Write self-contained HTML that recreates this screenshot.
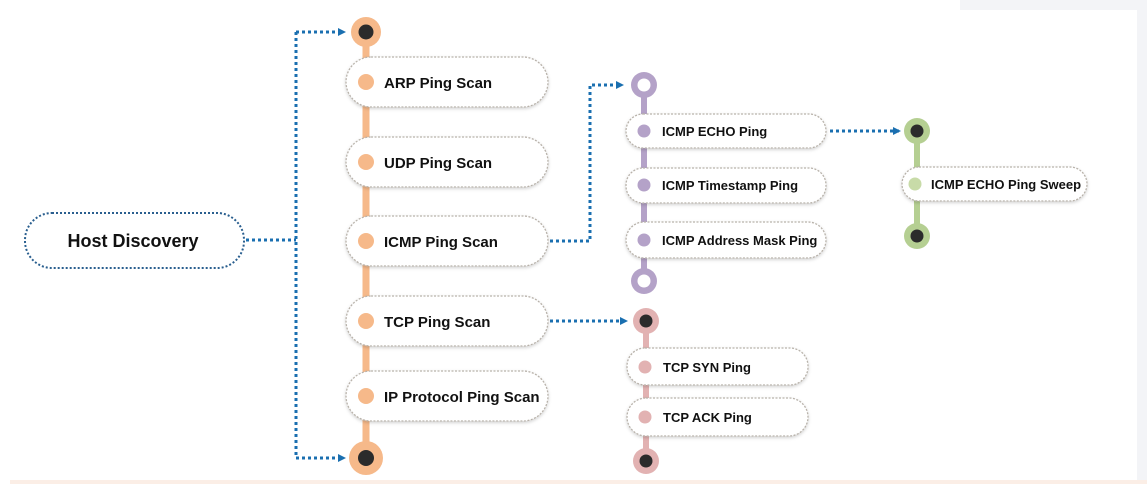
<!DOCTYPE html>
<html><head><meta charset="utf-8"><style>
html,body{margin:0;padding:0;background:#fff;}
svg{display:block;font-family:"Liberation Sans",Arial,sans-serif;}
.t{font-weight:bold;fill:#111;}
.b{fill:#fff;stroke:#b8b2aa;stroke-width:1.3;stroke-dasharray:2 1.5;filter:url(#sh);}
.c{stroke:#1a6fb0;stroke-width:3;stroke-dasharray:3 3;fill:none;}
</style></head><body>
<svg width="1147" height="484" viewBox="0 0 1147 484">
<defs>
<filter id="sh" x="-10%" y="-30%" width="120%" height="160%"><feDropShadow dx="0" dy="1.5" stdDeviation="1.5" flood-color="#000" flood-opacity="0.18"/></filter>
<marker id="ar" markerWidth="8" markerHeight="8" refX="6" refY="4" orient="auto" markerUnits="userSpaceOnUse"><path d="M0,0 L8,4 L0,8 Z" fill="#1a6fb0"/></marker>
</defs>
<rect x="960" y="0" width="187" height="10" fill="#f3f4f7"/>
<rect x="1137" y="0" width="10" height="484" fill="#f3f4f7"/>
<rect x="10" y="480" width="1137" height="4" fill="#fbeee6"/>

<!-- connectors -->
<path class="c" d="M246,240 H296"/>
<path class="c" d="M296,32 V458"/>
<path class="c" d="M296,32 H344" marker-end="url(#ar)"/>
<path class="c" d="M296,458 H344" marker-end="url(#ar)"/>
<path class="c" d="M550,241 H590 V85 H622" marker-end="url(#ar)"/>
<path class="c" d="M830,131 H899" marker-end="url(#ar)"/>
<path class="c" d="M550,321 H626" marker-end="url(#ar)"/>

<!-- Host Discovery -->
<rect x="25" y="213" width="219" height="55" rx="27" fill="#fff" stroke="#2a5f8f" stroke-width="2" stroke-dasharray="2 2"/>
<text class="t" x="133" y="247" font-size="18" text-anchor="middle">Host Discovery</text>

<!-- orange -->
<line x1="366" y1="32" x2="366" y2="458" stroke="#f6b98a" stroke-width="7"/>
<circle cx="366" cy="32" r="15" fill="#f6b98a"/><circle cx="366" cy="32" r="7.5" fill="#2b2b2b"/>
<circle cx="366" cy="458" r="17" fill="#f6b98a"/><circle cx="366" cy="458" r="8" fill="#2b2b2b"/>
<g>
<rect class="b" x="346" y="57" width="202" height="50" rx="25"/><circle cx="366" cy="82" r="8" fill="#f6b98a"/><text class="t" x="384" y="88" font-size="15">ARP Ping Scan</text>
<rect class="b" x="346" y="137" width="202" height="50" rx="25"/><circle cx="366" cy="162" r="8" fill="#f6b98a"/><text class="t" x="384" y="168" font-size="15">UDP Ping Scan</text>
<rect class="b" x="346" y="216" width="202" height="50" rx="25"/><circle cx="366" cy="241" r="8" fill="#f6b98a"/><text class="t" x="384" y="247" font-size="15">ICMP Ping Scan</text>
<rect class="b" x="346" y="296" width="202" height="50" rx="25"/><circle cx="366" cy="321" r="8" fill="#f6b98a"/><text class="t" x="384" y="327" font-size="15">TCP Ping Scan</text>
<rect class="b" x="346" y="371" width="202" height="50" rx="25"/><circle cx="366" cy="396" r="8" fill="#f6b98a"/><text class="t" x="384" y="402" font-size="15">IP Protocol Ping Scan</text>
</g>

<!-- purple -->
<line x1="644" y1="85" x2="644" y2="281" stroke="#b4a2c8" stroke-width="6"/>
<circle cx="644" cy="85" r="13" fill="#b4a2c8"/><circle cx="644" cy="85" r="6.5" fill="#fff"/>
<circle cx="644" cy="281" r="13" fill="#b4a2c8"/><circle cx="644" cy="281" r="6.5" fill="#fff"/>
<rect class="b" x="626" y="114" width="200" height="34" rx="17"/><circle cx="644" cy="131" r="6.5" fill="#b4a2c8"/><text class="t" x="662" y="136" font-size="13">ICMP ECHO Ping</text>
<rect class="b" x="626" y="168" width="200" height="35" rx="17"/><circle cx="644" cy="185" r="6.5" fill="#b4a2c8"/><text class="t" x="662" y="190" font-size="13">ICMP Timestamp Ping</text>
<rect class="b" x="626" y="222" width="200" height="36" rx="18"/><circle cx="644" cy="240" r="6.5" fill="#b4a2c8"/><text class="t" x="662" y="245" font-size="13">ICMP Address Mask Ping</text>

<!-- green -->
<line x1="917" y1="131" x2="917" y2="236" stroke="#b5cf92" stroke-width="6"/>
<circle cx="917" cy="131" r="13" fill="#b5cf92"/><circle cx="917" cy="131" r="6.5" fill="#2b2b2b"/>
<circle cx="917" cy="236" r="13" fill="#b5cf92"/><circle cx="917" cy="236" r="6.5" fill="#2b2b2b"/>
<rect class="b" x="902" y="167" width="185" height="34" rx="17"/><circle cx="915" cy="184" r="6.5" fill="#c8dba8"/><text class="t" x="931" y="189" font-size="13">ICMP ECHO Ping Sweep</text>

<!-- pink -->
<line x1="646" y1="321" x2="646" y2="461" stroke="#e2b2b2" stroke-width="6"/>
<circle cx="646" cy="321" r="13" fill="#e2b2b2"/><circle cx="646" cy="321" r="6.5" fill="#2b2b2b"/>
<circle cx="646" cy="461" r="13" fill="#e2b2b2"/><circle cx="646" cy="461" r="6.5" fill="#2b2b2b"/>
<rect class="b" x="627" y="348" width="181" height="37" rx="18"/><circle cx="645" cy="367" r="6.5" fill="#e2b2b2"/><text class="t" x="663" y="372" font-size="13">TCP SYN Ping</text>
<rect class="b" x="627" y="398" width="181" height="38" rx="19"/><circle cx="645" cy="417" r="6.5" fill="#e2b2b2"/><text class="t" x="663" y="422" font-size="13">TCP ACK Ping</text>
</svg>
</body></html>
